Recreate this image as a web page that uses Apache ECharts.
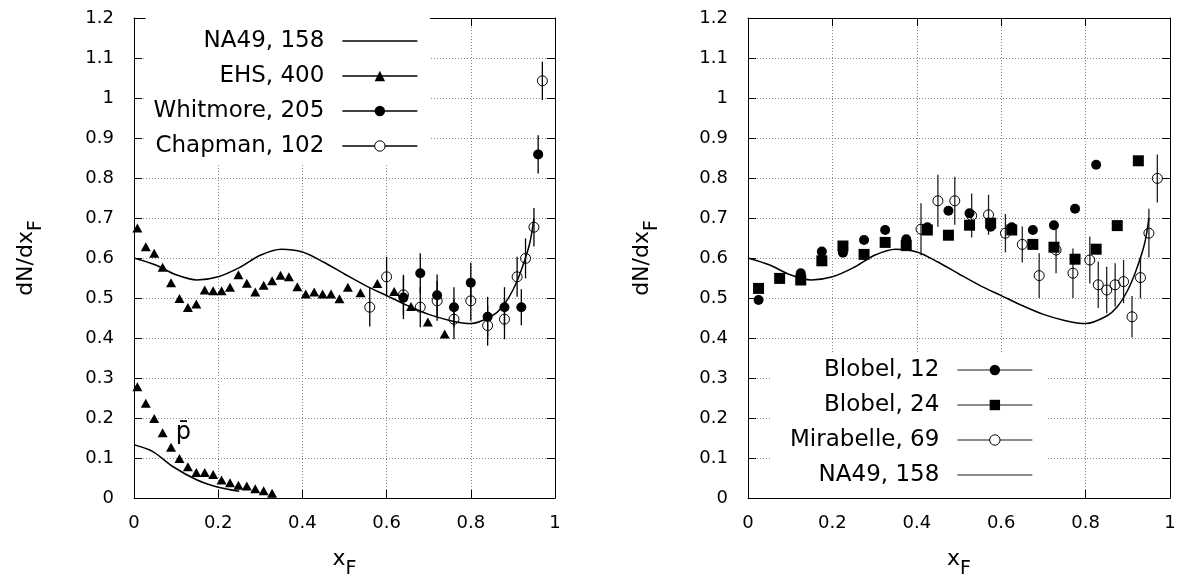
<!DOCTYPE html>
<html><head><meta charset="utf-8">
<script src="https://cdn.jsdelivr.net/npm/echarts@6/dist/echarts.min.js"></script>
<style>html,body{margin:0;padding:0;background:#fff}#c{width:1178px;height:583px}</style>
</head><body><div id="c"></div>
<script>
// ---------- tick labels ----------
const xTickLabels = ['0','0.2','0.4','0.6','0.8','1'];
const yTickLabels = ['0','0.1','0.2','0.3','0.4','0.5','0.6','0.7','0.8','0.9','1','1.1','1.2'];

// ---------- NA49, 158 (curves) ----------
const na49X = [0,0.05,0.1,0.15,0.2,0.25,0.3,0.35,0.4,0.45,0.5,0.55,0.6,0.65,0.7,0.75,0.8,0.85,0.875,0.9,0.92,0.94,0.95];
const na49Y = [0.600,0.583,0.558,0.545,0.553,0.576,0.607,0.622,0.615,0.590,0.560,0.531,0.506,0.481,0.459,0.444,0.436,0.455,0.478,0.520,0.570,0.637,0.700];
const na49PbarX = [0,0.045,0.09,0.15,0.2,0.25];
const na49PbarY = [0.133,0.116,0.080,0.045,0.027,0.017];

// ---------- EHS, 400 ----------
const ehsX = [0.008,0.028,0.048,0.068,0.088,0.108,0.128,0.148,0.168,0.188,0.208,0.228,0.248,0.268,0.288,0.308,0.328,0.348,0.368,0.388,0.408,0.428,0.448,0.468,0.488,0.508,0.538,0.578,0.618,0.658,0.698,0.738];
const ehsY = [0.675,0.628,0.612,0.577,0.538,0.499,0.476,0.485,0.520,0.518,0.518,0.527,0.558,0.537,0.515,0.532,0.543,0.557,0.553,0.528,0.510,0.515,0.510,0.510,0.498,0.527,0.513,0.536,0.516,0.479,0.440,0.410];
const ehsPbarX = [0.008,0.028,0.048,0.068,0.088,0.108,0.128,0.148,0.168,0.188,0.208,0.228,0.248,0.268,0.288,0.308,0.328];
const ehsPbarY = [0.278,0.237,0.199,0.163,0.127,0.099,0.078,0.064,0.064,0.059,0.045,0.038,0.032,0.030,0.023,0.018,0.012];

// ---------- Whitmore, 205 ----------
const whitX = [0.64,0.68,0.72,0.76,0.80,0.84,0.88,0.92,0.96];
const whitY = [0.501,0.562,0.507,0.477,0.538,0.453,0.477,0.477,0.859];
const whitE = [0.054,0.050,0.052,0.050,0.050,0.050,0.050,0.045,0.048];

// ---------- Chapman, 102 ----------
const chapX = [0.56,0.60,0.64,0.68,0.72,0.76,0.80,0.84,0.88,0.91,0.93,0.95,0.97];
const chapY = [0.477,0.553,0.508,0.477,0.493,0.447,0.493,0.431,0.447,0.553,0.599,0.677,1.043];
const chapE = [0.048,0.050,0.050,0.050,0.050,0.050,0.050,0.050,0.050,0.050,0.050,0.048,0.048];

// ---------- Blobel, 12 ----------
const b12X = [0.025,0.125,0.175,0.225,0.275,0.325,0.375,0.425,0.475,0.525,0.575,0.625,0.675,0.725,0.775,0.825];
const b12Y = [0.495,0.562,0.616,0.613,0.645,0.670,0.647,0.677,0.718,0.712,0.678,0.677,0.670,0.682,0.723,0.833];

// ---------- Blobel, 24 ----------
const b24X = [0.025,0.075,0.125,0.175,0.225,0.275,0.325,0.375,0.425,0.475,0.525,0.575,0.625,0.675,0.725,0.775,0.825,0.875,0.925];
const b24Y = [0.524,0.549,0.545,0.593,0.630,0.609,0.639,0.631,0.670,0.657,0.682,0.687,0.670,0.634,0.627,0.597,0.622,0.681,0.843];

// ---------- Mirabelle, 69 ----------
const mirX = [0.41,0.45,0.49,0.53,0.57,0.61,0.65,0.69,0.73,0.77,0.81,0.83,0.85,0.87,0.89,0.91,0.93,0.95,0.97];
const mirY = [0.672,0.743,0.743,0.706,0.708,0.662,0.634,0.556,0.620,0.562,0.595,0.533,0.520,0.533,0.541,0.453,0.551,0.662,0.799];
const mirE = [0.065,0.065,0.060,0.055,0.050,0.048,0.045,0.056,0.058,0.062,0.059,0.058,0.058,0.054,0.054,0.052,0.052,0.061,0.060];

const FONT = 'DejaVu Sans';
const pairs = (xs, ys) => xs.map((x, i) => [x, ys[i]]);

function mainX(gi) {
  return {
    type: 'value', gridIndex: gi, position: 'bottom', min: 0, max: 1, interval: 0.2,
    name: '{n|x}{s|F}', nameLocation: 'middle', nameGap: 50,
    nameTextStyle: { color: '#000', fontFamily: FONT, rich: {
      n: { fontSize: 22, fontFamily: FONT, color: '#000', padding: [0, 0, 10, 0] },
      s: { fontSize: 19, fontFamily: FONT, color: '#000', padding: [10, 0, 0, 0] } } },
    axisLine: { show: true, onZero: false, lineStyle: { color: '#000', width: 1 } },
    axisTick: { show: true, inside: true, length: 8, lineStyle: { color: '#000', width: 1 } },
    axisLabel: { color: '#000', fontSize: 18, fontFamily: FONT, margin: 16,
      formatter: v => xTickLabels[Math.round(v / 0.2)] },
    splitLine: { show: true, lineStyle: { color: '#888', width: 1, type: [1, 2] } }
  };
}
function topX(gi) {
  return {
    type: 'value', gridIndex: gi, position: 'top', min: 0, max: 1, interval: 0.2,
    axisLine: { show: true, onZero: false, lineStyle: { color: '#000', width: 1 } },
    axisTick: { show: true, inside: true, length: 8, lineStyle: { color: '#000', width: 1 } },
    axisLabel: { show: false }, splitLine: { show: false }
  };
}
function mainY(gi, gap) {
  return {
    type: 'value', gridIndex: gi, position: 'left', min: 0, max: 1.2, interval: 0.1,
    name: '{n|dN/dx}{s|F}', nameLocation: 'middle', nameGap: gap, nameRotate: 90,
    nameTextStyle: { color: '#000', fontFamily: FONT, rich: {
      n: { fontSize: 22, fontFamily: FONT, color: '#000', padding: [0, 0, 10, 0] },
      s: { fontSize: 19, fontFamily: FONT, color: '#000', padding: [10, 0, 0, 0] } } },
    axisLine: { show: true, onZero: false, lineStyle: { color: '#000', width: 1 } },
    axisTick: { show: true, inside: true, length: 8, lineStyle: { color: '#000', width: 1 } },
    axisLabel: { color: '#000', fontSize: 18, fontFamily: FONT, margin: 20,
      formatter: v => yTickLabels[Math.round(v / 0.1)] },
    splitLine: { show: true, lineStyle: { color: '#888', width: 1, type: [1, 2] } }
  };
}
function rightY(gi) {
  return {
    type: 'value', gridIndex: gi, position: 'right', min: 0, max: 1.2, interval: 0.1,
    axisLine: { show: true, onZero: false, lineStyle: { color: '#000', width: 1 } },
    axisTick: { show: true, inside: true, length: 8, lineStyle: { color: '#000', width: 1 } },
    axisLabel: { show: false }, splitLine: { show: false }
  };
}

function curve(name, ai, xs, ys) {
  return { type: 'line', name, xAxisIndex: ai, yAxisIndex: ai, data: pairs(xs, ys),
    smooth: 0.3, symbol: 'none', silent: true, z: 3,
    lineStyle: { color: '#000', width: 1.5 }, itemStyle: { color: '#000' } };
}
function points(name, ai, xs, ys, symbol, size, open) {
  return { type: 'line', name, xAxisIndex: ai, yAxisIndex: ai, data: pairs(xs, ys),
    symbol, symbolSize: size, showSymbol: true, showAllSymbol: true, silent: true, z: 4,
    lineStyle: { width: 0, opacity: 0 },
    itemStyle: open ? { color: 'transparent', borderColor: '#000', borderWidth: 1 }
                    : { color: '#000', borderColor: '#000', borderWidth: 0 } };
}
function errbars(name, ai, xs, ys, es, color) {
  return { type: 'custom', name, xAxisIndex: ai, yAxisIndex: ai, silent: true, z: 2,
    data: xs.map((x, i) => [x, ys[i] - es[i], ys[i] + es[i]]),
    encode: { x: 0, y: [1, 2] },
    renderItem: (params, api) => {
      const a = api.coord([api.value(0), api.value(1)]);
      const b = api.coord([api.value(0), api.value(2)]);
      return { type: 'line', shape: { x1: a[0], y1: a[1], x2: b[0], y2: b[1] },
        style: { stroke: color, lineWidth: 1.3 } };
    } };
}

const filled = { color: '#000', borderColor: '#000', borderWidth: 0, opacity: 1 };
const hollow = { color: '#fff', borderColor: '#000', borderWidth: 1, opacity: 1 };
function legend(right, top, padding, names, styles, lineColor) {
  return {
    orient: 'vertical', align: 'right', right, top, padding, itemGap: 12,
    itemWidth: 75, itemHeight: 13, backgroundColor: '#fff', selectedMode: false,
    textStyle: { fontSize: 23, fontFamily: FONT, color: '#000', padding: [0, 13, 0, 0] },
    lineStyle: { color: lineColor, width: 1.3, opacity: 1, type: 'solid' },
    data: names.map((n, i) => ({ name: n, itemStyle: styles[i] }))
  };
}

const option = {
  animation: false,
  backgroundColor: '#fff',
  grid: [
    { left: 134, top: 18, width: 421, height: 480, outerBoundsMode: 'none', containLabel: false },
    { left: 748, top: 18, width: 422, height: 480, outerBoundsMode: 'none', containLabel: false }
  ],
  xAxis: [mainX(0), mainX(1), topX(0), topX(1)],
  yAxis: [mainY(0, 87), mainY(1, 85), rightY(0), rightY(1)],
  legend: [
    legend(748, 18, [11.5, 12, 5.5, 8], ['NA49, 158', 'EHS, 400', 'Whitmore, 205', 'Chapman, 102'],
      [{ opacity: 0 }, filled, filled, hollow], '#000'),
    legend(130, 352, [6.5, 15, 11.5, 20], ['Blobel, 12', 'Blobel, 24', 'Mirabelle, 69', 'NA49, 158'],
      [filled, filled, hollow, { opacity: 0 }], '#666')
  ],
  series: [
    curve('NA49, 158', 0, na49X, na49Y),
    curve('NA49, 158', 0, na49PbarX, na49PbarY),
    points('EHS, 400', 0, ehsX, ehsY, 'triangle', [10, 9], false),
    Object.assign(points('EHS, 400', 0, ehsPbarX, ehsPbarY, 'triangle', [10, 9], false), {
      markPoint: { silent: true, symbol: 'circle', symbolSize: 0, animation: false,
        label: { show: true, position: 'inside', formatter: 'p\u0304', fontSize: 24, fontFamily: FONT, color: '#000' },
        data: [{ coord: [0.117, 0.163] }] }
    }),
    errbars('Whitmore err', 0, whitX, whitY, whitE, '#000'),
    points('Whitmore, 205', 0, whitX, whitY, 'circle', 10, false),
    errbars('Chapman err', 0, chapX, chapY, chapE, '#000'),
    points('Chapman, 102', 0, chapX, chapY, 'circle', 10, true),

    curve('NA49 right', 1, na49X, na49Y),
    points('Blobel, 12', 1, b12X, b12Y, 'circle', 10, false),
    points('Blobel, 24', 1, b24X, b24Y, 'rect', 11, false),
    errbars('Mirabelle err', 1, mirX, mirY, mirE, '#222'),
    points('Mirabelle, 69', 1, mirX, mirY, 'circle', 10, true)
  ]
};
const chart = echarts.init(document.getElementById('c'), null, { renderer: 'canvas' });
chart.setOption(option);
</script></body></html>
